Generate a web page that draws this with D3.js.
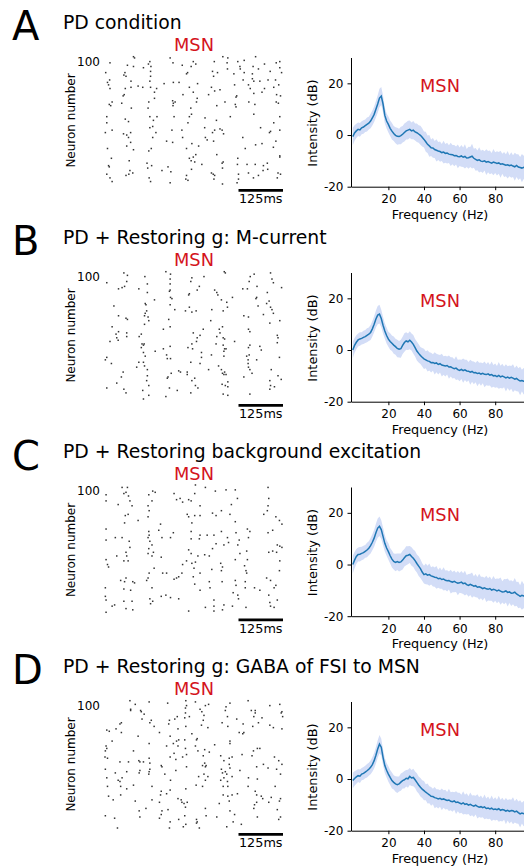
<!DOCTYPE html>
<html>
<head>
<meta charset="utf-8">
<script src="https://cdn.jsdelivr.net/npm/d3@7"></script>
<style>
  body { margin: 0; background: #fff; }
  text { font-family: "DejaVu Sans", sans-serif; }
</style>
</head>
<body>
<script>
// panels
const letters = ["A", "B", "C", "D"];
const titles = [
    "PD condition",
    "PD + Restoring g: M-current",
    "PD + Restoring background excitation",
    "PD + Restoring g: GABA of FSI to MSN"
];
const cellType = "MSN";
const scaleBarMs = 125;
const rasterTopTick = 100;
const yTicks = [-20, 0, 20];
const xTicks = [20, 40, 60, 80];

// spikes: [time (ms), neuron index]
const spikesA = [[80,104],[83,103],[183,103],[331,104],[345,103],[423,104],[391,101],[491,100],[481,99],[126,100],[14,99],[191,99],[248,100],[255,98],[307,100],[343,99],[373,100],[448,98],[122,98],[63,97],[80,96],[108,95],[129,96],[217,97],[242,96],[344,94],[379,96],[380,94],[416,96],[491,95],[431,94],[2,91],[56,91],[53,89],[59,88],[128,92],[232,91],[229,90],[302,92],[316,91],[362,90],[391,91],[414,90],[464,92],[496,91],[128,88],[305,88],[414,86],[388,85],[418,84],[13,85],[7,83],[73,84],[126,84],[73,79],[93,80],[10,81],[128,79],[166,82],[192,83],[208,83],[260,82],[435,84],[458,85],[479,85],[488,81],[57,78],[106,79],[145,78],[237,79],[299,79],[323,77],[364,81],[403,81],[408,78],[448,78],[474,79],[14,78],[54,73],[51,72],[139,75],[219,73],[248,75],[291,73],[308,76],[370,72],[368,71],[418,74],[441,75],[482,73],[493,72],[259,70],[139,70],[20,67],[12,65],[16,64],[47,66],[123,67],[190,68],[192,66],[197,67],[191,64],[257,67],[337,67],[366,65],[368,63],[404,67],[421,65],[481,67],[487,66],[74,62],[121,62],[314,64],[241,62],[5,55],[57,53],[66,51],[126,55],[136,52],[146,55],[194,55],[237,55],[243,57],[281,54],[313,52],[352,55],[418,57],[491,55],[5,50],[134,47],[233,50],[474,50],[1,42],[20,44],[52,41],[61,40],[72,42],[126,46],[143,42],[188,44],[216,44],[280,46],[302,42],[308,44],[323,45],[329,44],[333,41],[437,46],[462,42],[465,43],[491,44],[66,38],[134,38],[218,38],[282,38],[287,36],[387,38],[72,34],[173,35],[190,34],[244,33],[263,31],[305,35],[423,32],[441,33],[480,35],[7,29],[61,31],[80,28],[130,29],[123,27],[229,29],[255,24],[314,24],[394,29],[248,22],[473,30],[491,23],[491,22],[18,21],[68,19],[237,21],[242,19],[252,18],[272,16],[329,17],[332,18],[373,21],[10,15],[12,14],[118,17],[131,15],[120,13],[177,14],[185,10],[160,11],[243,12],[330,13],[372,16],[399,16],[422,16],[445,15],[456,17],[444,11],[457,12],[5,8],[70,11],[67,8],[59,7],[78,9],[299,9],[304,8],[308,7],[229,7],[227,4],[375,8],[403,9],[486,9],[493,8],[14,5],[20,2],[124,5],[128,2],[233,3],[183,1],[306,4],[330,0],[375,4],[371,1],[417,5],[431,7],[484,5]];

const spikesB = [[53,103],[63,101],[61,96],[55,92],[48,91],[38,90],[5,95],[112,100],[119,94],[95,90],[119,87],[171,104],[184,102],[183,98],[183,94],[183,89],[181,88],[244,99],[241,96],[265,92],[259,89],[237,86],[235,85],[278,100],[335,104],[338,103],[308,89],[314,87],[317,85],[327,81],[342,79],[358,83],[408,100],[419,102],[405,96],[387,90],[400,90],[427,92],[465,103],[469,98],[473,95],[456,87],[496,91],[139,81],[184,83],[188,82],[113,78],[115,77],[117,72],[113,70],[111,68],[121,67],[123,64],[111,61],[25,76],[38,68],[59,66],[63,65],[183,77],[196,73],[226,72],[237,75],[244,71],[256,72],[300,73],[332,72],[344,75],[424,82],[426,83],[430,76],[461,80],[454,78],[465,75],[469,73],[473,70],[445,69],[390,68],[403,67],[491,64],[179,65],[297,64],[463,62],[20,59],[38,55],[31,53],[33,50],[37,48],[61,54],[61,51],[14,47],[102,53],[96,51],[164,57],[183,59],[248,54],[267,52],[276,57],[259,50],[257,47],[321,57],[330,59],[323,54],[314,51],[332,50],[336,49],[364,47],[403,57],[407,55],[484,52],[486,50],[104,45],[108,44],[110,45],[102,42],[164,41],[183,43],[244,45],[246,41],[233,42],[312,45],[332,44],[336,41],[340,41],[334,39],[334,35],[407,44],[403,42],[435,43],[439,40],[484,46],[5,34],[1,32],[18,29],[108,38],[113,35],[141,39],[173,36],[175,33],[184,33],[271,38],[271,34],[299,36],[398,35],[405,36],[402,32],[426,32],[490,34],[95,30],[108,30],[241,30],[267,29],[89,26],[111,27],[402,29],[403,26],[407,24],[291,24],[319,27],[327,24],[336,22],[334,20],[330,21],[340,20],[207,23],[212,22],[231,22],[231,20],[413,21],[467,24],[51,22],[46,18],[119,24],[119,19],[175,17],[177,18],[186,21],[252,17],[244,15],[254,11],[261,9],[390,18],[486,19],[495,16],[5,9],[33,13],[53,8],[59,5],[117,15],[123,11],[106,7],[123,3],[108,0],[181,9],[203,7],[171,2],[241,5],[329,12],[338,11],[345,14],[345,10],[332,4],[345,3],[407,4],[463,15],[465,11],[476,10],[463,8]];

const spikesC = [[3,97],[3,92],[37,89],[48,103],[53,98],[63,103],[59,99],[66,96],[70,92],[76,88],[65,81],[57,80],[55,74],[3,69],[3,60],[29,62],[48,62],[68,59],[70,54],[59,50],[61,47],[65,43],[53,43],[33,47],[3,44],[7,40],[10,38],[59,29],[55,26],[44,27],[78,26],[83,25],[1,21],[53,20],[72,19],[1,14],[3,11],[27,7],[20,6],[53,10],[59,4],[76,10],[78,3],[3,1],[93,76],[123,97],[121,88],[124,84],[121,79],[134,100],[141,99],[132,92],[123,67],[124,64],[121,62],[126,59],[132,56],[123,53],[136,50],[121,49],[132,47],[138,37],[124,33],[121,29],[117,27],[132,21],[156,73],[151,68],[160,62],[192,66],[184,62],[158,46],[162,33],[173,33],[158,14],[171,15],[184,13],[207,12],[126,12],[128,8],[134,10],[194,98],[201,93],[211,94],[218,91],[235,93],[242,92],[267,88],[254,105],[252,98],[282,103],[310,100],[340,101],[366,101],[372,94],[355,89],[327,84],[351,81],[366,75],[312,80],[302,82],[267,80],[252,80],[231,81],[235,79],[244,74],[242,67],[267,64],[287,64],[327,67],[306,64],[344,62],[347,58],[377,60],[400,69],[407,67],[403,62],[373,56],[398,51],[379,49],[366,44],[334,56],[312,57],[302,53],[265,61],[242,61],[235,52],[242,49],[261,47],[254,42],[280,48],[293,47],[325,41],[330,38],[327,35],[300,36],[267,33],[250,37],[244,41],[229,43],[216,33],[218,40],[201,29],[194,28],[207,30],[248,30],[252,24],[267,19],[295,21],[293,26],[329,26],[366,27],[396,35],[398,33],[368,23],[360,17],[373,15],[375,12],[358,6],[334,7],[330,3],[306,11],[306,6],[306,2],[282,5],[235,2],[400,44],[392,39],[394,26],[394,21],[396,5],[420,21],[435,19],[454,29],[465,27],[475,21],[480,23],[460,15],[463,9],[465,6],[475,5],[484,11],[458,103],[460,94],[458,88],[456,84],[446,81],[480,79],[490,76],[497,73],[471,68],[458,66],[484,56],[491,55],[497,54],[460,50],[471,51],[482,50],[491,43],[490,35],[368,66]];

const spikesD = [[70,104],[85,101],[124,103],[176,102],[227,104],[254,103],[282,100],[291,101],[351,102],[340,99],[402,104],[463,100],[491,101],[72,97],[72,96],[100,96],[102,95],[110,93],[104,89],[130,88],[126,86],[138,83],[153,78],[181,88],[179,85],[196,89],[203,91],[226,98],[226,94],[237,91],[224,90],[229,100],[267,97],[272,95],[278,92],[276,88],[271,84],[289,82],[227,83],[205,81],[338,96],[344,91],[329,86],[345,83],[370,89],[388,85],[411,96],[422,96],[422,94],[418,91],[431,86],[441,90],[463,84],[473,82],[497,95],[495,94],[499,91],[415,83],[377,78],[390,78],[387,77],[497,81],[42,85],[46,86],[31,81],[12,79],[5,80],[46,78],[20,71],[93,75],[183,75],[207,72],[201,71],[244,77],[259,73],[257,72],[224,72],[192,69],[124,69],[80,63],[3,67],[5,65],[1,63],[0,58],[7,57],[42,54],[66,54],[95,55],[98,54],[108,54],[124,57],[126,53],[158,51],[183,58],[194,61],[199,56],[205,67],[218,58],[226,65],[229,60],[173,67],[254,67],[261,63],[280,64],[293,62],[308,68],[351,71],[351,69],[349,57],[357,58],[334,55],[325,59],[276,59],[280,53],[284,51],[282,50],[274,51],[229,50],[199,47],[160,50],[126,48],[124,46],[98,47],[96,45],[61,46],[29,45],[1,48],[5,41],[37,39],[48,41],[42,38],[44,34],[61,32],[7,34],[80,35],[123,44],[168,44],[184,39],[132,34],[158,30],[173,28],[183,31],[227,32],[256,35],[263,42],[274,34],[278,44],[289,42],[282,39],[327,48],[330,45],[338,46],[342,44],[357,42],[349,52],[351,49],[334,41],[325,39],[344,38],[345,34],[332,34],[379,47],[385,60],[413,59],[417,63],[428,65],[435,65],[445,52],[426,50],[458,49],[476,58],[488,55],[497,52],[493,44],[482,48],[403,41],[428,40],[402,34],[422,30],[426,27],[439,26],[443,24],[478,34],[10,26],[23,23],[44,27],[85,22],[132,23],[156,27],[153,21],[160,14],[158,11],[96,14],[98,9],[115,16],[153,8],[177,15],[205,24],[214,23],[216,21],[222,20],[231,21],[226,17],[224,10],[207,7],[183,5],[220,1],[227,3],[257,7],[259,5],[257,4],[265,0],[282,16],[284,10],[314,9],[321,20],[332,27],[345,26],[357,27],[372,28],[349,22],[351,14],[364,11],[360,5],[342,1],[383,3],[418,16],[420,19],[426,21],[460,21],[467,25],[493,24],[490,22],[484,15],[493,9],[488,7],[428,9],[1,10],[27,8],[35,0],[181,0]];

// mean spectrum (dB), one value per Hz starting at 0 Hz
const psdA = [
    -0.6,0.8,1.6,2.2,2.0,2.8,3.1,3.6,4.1,4.6,
    5.4,6.6,8.0,10.0,12.0,14.3,15.1,12.0,7.6,5.4,
    4.1,2.6,1.5,0.6,-0.1,-0.5,-0.6,-0.2,0.3,1.0,
    1.6,1.9,2.2,1.6,1.9,1.2,0.9,0.4,-0.1,-0.9,
    -1.7,-2.6,-3.6,-4.2,-4.9,-5.0,-5.6,-5.9,-6.2,-6.4,
    -6.8,-6.6,-7.1,-7.0,-7.4,-7.5,-7.6,-8.0,-7.9,-8.3,
    -8.4,-8.1,-8.6,-8.3,-8.9,-8.8,-8.5,-8.2,-9.0,-9.4,
    -9.8,-9.6,-10.1,-10.2,-10.0,-10.5,-10.3,-10.6,-10.9,-10.5,
    -10.7,-11.0,-10.8,-11.3,-11.1,-11.4,-11.7,-11.5,-11.9,-11.6,
    -12.0,-12.3,-11.8,-12.4,-12.6,-12.8,-12.5,-12.9
];
const psdB = [
    0.0,1.8,3.0,3.9,4.3,4.5,4.9,5.2,5.7,6.1,
    6.8,8.2,10.0,12.0,13.5,13.9,12.2,9.6,7.4,5.6,
    4.2,3.3,2.6,1.9,1.3,0.6,0.3,0.5,1.8,2.9,
    3.5,3.2,3.8,3.1,2.2,0.9,-0.4,-1.3,-2.1,-2.8,
    -3.4,-3.8,-4.2,-4.4,-4.9,-4.8,-5.2,-5.0,-5.6,-5.3,
    -5.8,-6.0,-6.2,-6.0,-6.6,-6.5,-6.9,-7.2,-7.0,-7.6,
    -7.9,-7.5,-8.0,-7.7,-8.1,-8.2,-8.6,-8.3,-8.8,-8.7,
    -9.1,-8.9,-9.3,-9.0,-9.4,-9.5,-9.2,-9.7,-9.5,-10.0,
    -9.9,-10.3,-9.8,-10.4,-10.1,-10.4,-10.8,-10.5,-10.9,-10.6,
    -10.9,-11.3,-11.0,-11.6,-12.0,-11.8,-12.1,-11.9
];
const psdC = [
    0.0,1.7,3.1,3.9,4.0,4.3,4.6,5.1,5.6,6.3,
    7.3,8.6,10.2,12.3,14.1,14.8,13.5,10.9,8.2,6.4,
    5.0,3.4,2.1,1.2,0.8,1.1,0.8,1.0,1.7,2.6,
    3.4,3.6,3.9,3.1,2.4,1.5,0.4,-0.6,-1.6,-2.9,
    -3.9,-3.6,-4.1,-3.9,-4.4,-4.6,-4.9,-5.0,-5.5,-5.3,
    -5.8,-5.6,-6.1,-6.3,-6.2,-6.6,-6.8,-6.5,-6.9,-7.2,
    -7.1,-6.8,-7.4,-7.2,-7.8,-8.1,-7.7,-8.0,-8.4,-8.2,
    -8.8,-8.6,-8.9,-9.3,-9.0,-9.4,-9.6,-9.3,-9.9,-9.6,
    -9.8,-10.2,-9.9,-10.3,-10.6,-10.5,-10.2,-10.8,-10.6,-11.1,
    -11.0,-10.7,-11.4,-11.8,-12.3,-11.9,-12.2,-12.0
];
const psdD = [
    -0.6,0.2,0.8,1.3,1.1,1.9,2.2,2.7,3.2,3.8,
    4.5,5.6,7.1,9.2,11.6,13.5,12.3,8.4,5.2,3.4,
    1.9,0.6,-0.6,-1.3,-1.9,-2.2,-1.9,-1.2,-0.6,-0.3,
    0.3,0.1,1.0,0.4,0.6,-0.3,-1.3,-2.3,-3.2,-3.9,
    -4.5,-5.1,-5.6,-6.1,-6.7,-6.8,-7.2,-7.4,-7.7,-7.5,
    -7.9,-7.7,-8.0,-8.3,-8.1,-8.6,-8.8,-8.5,-9.1,-8.9,
    -9.3,-9.6,-9.2,-9.8,-9.6,-10.1,-9.8,-10.2,-10.5,-10.1,
    -10.6,-10.9,-10.7,-11.1,-10.8,-11.4,-11.2,-11.6,-11.3,-11.8,
    -11.6,-11.9,-11.5,-12.1,-11.8,-12.0,-12.4,-12.1,-12.5,-12.2,
    -12.3,-12.7,-12.4,-13.0,-13.5,-13.2,-13.4,-13.1
];

// half-width of the shaded band (dB)
const sdA = [
    3.4,3.0,2.8,2.6,2.7,2.5,2.6,2.4,2.7,2.5,
    2.8,2.9,3.0,3.2,3.4,3.6,3.5,3.3,3.0,2.9,
    3.1,3.0,3.2,2.9,3.1,3.3,3.0,3.4,3.2,3.5,
    3.3,3.6,3.4,3.2,3.5,3.3,3.6,3.4,3.7,3.5,
    3.1,3.9,3.4,4.2,3.2,3.8,3.3,4.3,3.5,3.9,
    3.3,4.4,3.6,4.0,3.4,4.5,3.7,4.1,3.5,4.6,
    3.6,4.2,3.8,4.7,3.5,4.3,3.9,4.8,3.7,4.4,
    3.8,4.9,4.0,4.5,3.7,5.0,4.1,4.6,3.9,5.1,
    4.0,4.7,4.2,5.2,3.9,4.8,4.3,5.3,4.1,4.9,
    4.2,5.4,4.4,5.0,4.1,5.5,4.5,5.1
];
const sdB = [
    3.2,2.9,2.7,2.5,2.6,2.4,2.6,2.5,2.7,2.6,
    2.9,3.0,3.1,3.3,3.5,3.6,3.4,3.2,3.0,3.1,
    2.9,3.2,3.0,3.3,3.1,3.4,3.2,3.5,3.3,3.6,
    3.4,3.2,3.5,3.3,3.6,3.4,3.7,3.5,3.3,3.6,
    3.9,3.3,4.1,3.5,3.8,3.2,4.3,3.6,3.9,3.4,
    4.4,3.6,4.0,3.5,4.5,3.7,4.1,3.6,4.6,3.8,
    4.2,3.7,4.7,3.9,4.3,3.6,4.8,4.0,4.4,3.8,
    4.9,4.0,4.5,3.9,5.0,4.1,4.6,4.0,5.1,4.2,
    4.7,4.1,5.2,4.3,4.8,4.0,5.3,4.2,4.9,4.4,
    5.4,4.3,5.0,4.5,5.5,4.2,5.1,4.6
];
const sdC = [
    3.5,3.1,2.9,2.7,2.8,2.6,2.7,2.5,2.8,2.7,
    3.0,3.1,3.3,3.5,3.7,3.8,3.6,3.4,3.2,3.0,
    3.2,3.0,3.3,3.1,3.4,3.2,3.5,3.3,3.6,3.4,
    3.7,3.5,3.3,3.6,3.4,3.7,3.5,3.8,3.6,3.4,
    3.4,4.0,3.6,4.3,3.3,3.9,3.7,4.4,3.5,4.1,
    3.6,4.5,3.8,4.1,3.5,4.6,3.9,4.2,3.7,4.7,
    3.8,4.3,4.0,4.8,3.7,4.4,4.1,4.9,3.9,4.5,
    4.0,5.0,4.2,4.6,3.9,5.1,4.3,4.7,4.1,5.2,
    4.2,4.8,4.4,5.3,4.1,4.9,4.5,5.4,4.3,5.0,
    4.4,5.5,4.6,5.1,4.3,5.6,4.7,5.2
];
const sdD = [
    3.0,2.8,2.6,2.5,2.6,2.4,2.5,2.4,2.6,2.5,
    2.7,2.8,3.0,3.2,3.4,3.5,3.3,3.1,2.9,2.8,
    3.0,2.9,3.1,2.8,3.0,3.2,2.9,3.3,3.1,3.4,
    3.2,3.5,3.3,3.1,3.4,3.2,3.5,3.3,3.6,3.4,
    3.7,3.1,3.9,3.3,3.6,3.0,4.1,3.4,3.7,3.2,
    4.2,3.4,3.8,3.3,4.3,3.5,3.9,3.4,4.4,3.6,
    4.0,3.5,4.5,3.7,4.1,3.4,4.6,3.8,4.2,3.6,
    4.7,3.8,4.3,3.7,4.8,3.9,4.4,3.8,4.9,4.0,
    4.5,3.9,5.0,4.1,4.6,3.8,5.1,4.0,4.7,4.2,
    5.2,4.1,4.8,4.3,5.3,4.0,4.9,4.4
];

const spikes = [spikesA, spikesB, spikesC, spikesD];
const psds = [psdA, psdB, psdC, psdD];
const sds = [sdA, sdB, sdC, sdD];

const red = "#d4141c";
const blue = "#1f77b4";

let svg = d3.select("body")
    .append("svg")
    .attr("width", 524)
    .attr("height", 867)
    .style("background", "#fff");

let panelTop = [0, 215, 429.5, 644];

// raster scales
let rasterX = d3.scaleLinear().domain([0, 500]).range([105, 283]);
let rasterY = d3.scaleLinear().domain([0, 104]).range([184, 56.7]);

// spectrum scales
let psdX = d3.scaleLinear().domain([-1, 100]).range([351, 530.8]);
let psdY = d3.scaleLinear().domain([-20, 30]).range([186.7, 57.5]);

letters.forEach((letter, i) => {
    let g = svg.append("g").attr("transform", "translate(0," + panelTop[i] + ")");

    g.append("text")
        .attr("x", 12).attr("y", 40)
        .attr("font-size", 40)
        .text(letter);

    g.append("text")
        .attr("x", 63).attr("y", 28.5)
        .attr("font-size", 18.8)
        .text(titles[i]);

    // --- raster ---
    g.append("text")
        .attr("x", 194).attr("y", 50.5)
        .attr("text-anchor", "middle")
        .attr("font-size", 17.8)
        .attr("fill", red)
        .text(cellType);

    g.append("g")
        .selectAll("rect")
        .data(spikes[i])
        .enter()
        .append("rect")
        .attr("x", d => rasterX(d[0]) - 0.75)
        .attr("y", d => rasterY(d[1]) - 0.75)
        .attr("width", 1.5)
        .attr("height", 1.5)
        .attr("fill", "#333");

    g.append("text")
        .attr("x", 100).attr("y", rasterY(rasterTopTick))
        .attr("dy", "0.35em")
        .attr("text-anchor", "end")
        .attr("font-size", 12)
        .text(rasterTopTick);

    g.append("text")
        .attr("transform", "translate(75,120.5) rotate(-90)")
        .attr("text-anchor", "middle")
        .attr("font-size", 12)
        .text("Neuron number");

    g.append("line")
        .attr("x1", rasterX(500 - scaleBarMs)).attr("x2", rasterX(500))
        .attr("y1", 190.3).attr("y2", 190.3)
        .attr("stroke", "#000")
        .attr("stroke-width", 2.7);

    g.append("text")
        .attr("x", (rasterX(500 - scaleBarMs) + rasterX(500)) / 2)
        .attr("y", 203)
        .attr("text-anchor", "middle")
        .attr("font-size", 12.8)
        .text(scaleBarMs + "ms");

    // --- spectrum ---
    let psd = psds[i], sd = sds[i];
    let freqs = d3.range(psd.length);

    g.append("path")
        .datum(psd)
        .attr("d", d3.area()
            .x((d, k) => psdX(freqs[k]))
            .y0((d, k) => psdY(d - sd[k]))
            .y1((d, k) => psdY(d + sd[k])))
        .attr("fill", "#d3ddf7");

    g.append("path")
        .datum(psd)
        .attr("d", d3.line()
            .x((d, k) => psdX(freqs[k]))
            .y(d => psdY(d)))
        .attr("fill", "none")
        .attr("stroke", blue)
        .attr("stroke-width", 1.5);

    let yAxis = g.append("g")
        .attr("transform", "translate(" + psdX(-1) + ",0)")
        .call(d3.axisLeft(psdY).tickValues(yTicks).tickSize(3.5).tickPadding(4).tickSizeOuter(0)
            .tickFormat(d => String(d)));

    let xAxis = g.append("g")
        .attr("transform", "translate(0," + psdY(-20) + ")")
        .call(d3.axisBottom(psdX).tickValues(xTicks).tickSize(3.5).tickPadding(4.5).tickSizeOuter(0));

    [yAxis, xAxis].forEach(ax => {
        ax.attr("font-family", null).attr("font-size", 12);
        ax.selectAll("text").attr("fill", "#000");
        ax.selectAll("line").attr("stroke", "#000");
        ax.select(".domain").attr("stroke", "#000");
    });

    g.append("text")
        .attr("x", 440).attr("y", psdY(-20) + 32)
        .attr("text-anchor", "middle")
        .attr("font-size", 12.8)
        .text("Frequency (Hz)");

    g.append("text")
        .attr("transform", "translate(316.7,123) rotate(-90)")
        .attr("text-anchor", "middle")
        .attr("font-size", 12.9)
        .text("Intensity (dB)");

    g.append("text")
        .attr("x", 440).attr("y", 91.7)
        .attr("text-anchor", "middle")
        .attr("font-size", 17.8)
        .attr("fill", red)
        .text(cellType);
});
</script>
</body>
</html>
